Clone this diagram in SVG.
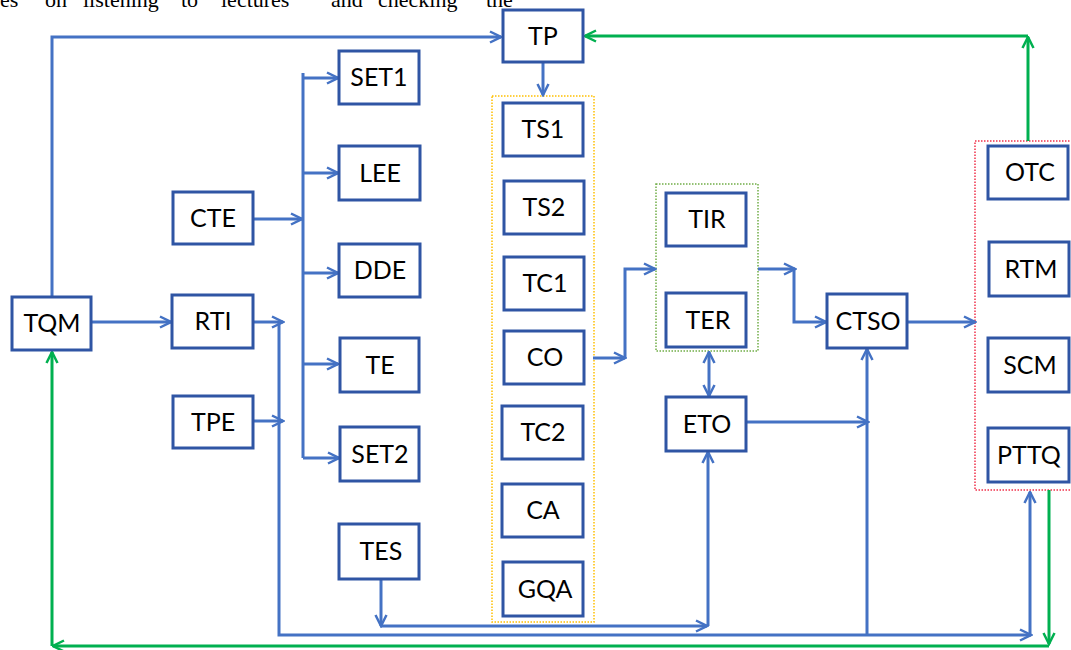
<svg xmlns="http://www.w3.org/2000/svg" width="1071" height="650" viewBox="0 0 1071 650">
<style>
.box rect{fill:#fff;stroke:#2F55A4;stroke-width:3}
.box text{font-family:Lato,"Liberation Sans",sans-serif;font-size:25px;fill:#000;text-anchor:middle}
.c{fill:none;stroke:#4472C4;stroke-width:3}
.g{fill:none;stroke:#00B050;stroke-width:3}
.grp{fill:none;stroke-width:1.5;stroke-dasharray:1.5 1.5}
.hdr{font-family:"Liberation Serif",serif;font-size:22px;fill:#000}
</style>
<defs>
<marker id="ab" viewBox="0 0 14 14" refX="12.5" refY="7" markerWidth="14" markerHeight="14" orient="auto" markerUnits="userSpaceOnUse"><path d="M1.5,1.5 L12.5,7 L1.5,12.5" fill="none" stroke="#4472C4" stroke-width="2.5"/></marker>
<marker id="abs" viewBox="0 0 14 14" refX="1.5" refY="7" markerWidth="14" markerHeight="14" orient="auto" markerUnits="userSpaceOnUse"><path d="M12.5,1.5 L1.5,7 L12.5,12.5" fill="none" stroke="#4472C4" stroke-width="2.5"/></marker>
<marker id="ag" viewBox="0 0 14 14" refX="12.5" refY="7" markerWidth="14" markerHeight="14" orient="auto" markerUnits="userSpaceOnUse"><path d="M1.5,1.5 L12.5,7 L1.5,12.5" fill="none" stroke="#00B050" stroke-width="2.5"/></marker>
</defs>
<rect width="1071" height="650" fill="#fff"/>
<text class="hdr" y="7"><tspan x="0">es</tspan><tspan x="45">on</tspan><tspan x="83">listening</tspan><tspan x="181">to</tspan><tspan x="221">lectures</tspan><tspan x="331">and</tspan><tspan x="378">checking</tspan><tspan x="486">the</tspan></text>

<g id="groups">
<rect class="grp" x="492" y="96" width="102" height="526" stroke="#FFC000"/>
<rect class="grp" x="656" y="184" width="102" height="167" stroke="#70AD47"/>
<rect class="grp" x="975" y="141" width="110" height="349" stroke="#F0304A"/>
</g>

<g id="connectors">
<path class="c" d="M52,297 V37 H501" marker-end="url(#ab)"/>
<path class="c" d="M91,322 H171" marker-end="url(#ab)"/>
<path class="c" d="M543,62 V95" marker-end="url(#ab)"/>
<path class="c" d="M253,219 H302" marker-end="url(#ab)"/>
<path class="c" d="M303,73 V458"/>
<path class="c" d="M303,78 H338" marker-end="url(#ab)"/>
<path class="c" d="M303,173 H338" marker-end="url(#ab)"/>
<path class="c" d="M303,273 H338" marker-end="url(#ab)"/>
<path class="c" d="M303,364 H338" marker-end="url(#ab)"/>
<path class="c" d="M303,458 H339" marker-end="url(#ab)"/>
<path class="c" d="M253,322 H283" marker-end="url(#ab)"/>
<path class="c" d="M253,421 H283" marker-end="url(#ab)"/>
<path class="c" d="M279,322 V635 H1031" marker-end="url(#ab)"/>
<path class="c" d="M1030,635 V492" marker-end="url(#ab)"/>
<path class="c" d="M381,579 V626" marker-end="url(#ab)"/>
<path class="c" d="M381,626 H707" marker-end="url(#ab)"/>
<path class="c" d="M708,626 V452" marker-end="url(#ab)"/>
<path class="c" d="M593,358 H625" marker-end="url(#ab)"/>
<path class="c" d="M625,358 V269 H655" marker-end="url(#ab)"/>
<path class="c" d="M758,269 H795" marker-end="url(#ab)"/>
<path class="c" d="M794,269 V322 H826" marker-end="url(#ab)"/>
<path class="c" d="M907,322 H975" marker-end="url(#ab)"/>
<path class="c" d="M709,352 V396" marker-start="url(#abs)" marker-end="url(#ab)"/>
<path class="c" d="M746,422 H868" marker-end="url(#ab)"/>
<path class="c" d="M867,635 V349" marker-end="url(#ab)"/>
<path class="g" d="M1028,141 V37" marker-end="url(#ag)"/>
<path class="g" d="M1028,36 H585" marker-end="url(#ag)"/>
<path class="g" d="M1049,490 V644" marker-end="url(#ag)"/>
<path class="g" d="M1049,646 H53" marker-end="url(#ag)"/>
<path class="g" d="M52,646 V352" marker-end="url(#ag)"/>
</g>

<g id="TP" class="box"><rect x="503" y="10" width="80" height="52"/><text x="543" y="45">TP</text></g>
<g id="SET1" class="box"><rect x="339" y="51" width="80" height="53"/><text x="379" y="86">SET1</text></g>
<g id="LEE" class="box"><rect x="339" y="146" width="81" height="54"/><text x="380" y="182">LEE</text></g>
<g id="CTE" class="box"><rect x="173" y="192" width="80" height="52"/><text x="213" y="227">CTE</text></g>
<g id="DDE" class="box"><rect x="339" y="244" width="81" height="53"/><text x="380" y="279">DDE</text></g>
<g id="TQM" class="box"><rect x="12" y="297" width="79" height="53"/><text x="52" y="332">TQM</text></g>
<g id="RTI" class="box"><rect x="172" y="295" width="81" height="53"/><text x="213" y="330">RTI</text></g>
<g id="TE" class="box"><rect x="340" y="338" width="79" height="54"/><text x="380" y="374">TE</text></g>
<g id="TPE" class="box"><rect x="173" y="396" width="80" height="52"/><text x="213" y="431">TPE</text></g>
<g id="SET2" class="box"><rect x="340" y="427" width="79" height="54"/><text x="380" y="463">SET2</text></g>
<g id="TES" class="box"><rect x="339" y="524" width="80" height="55"/><text x="381" y="560">TES</text></g>
<g id="TS1" class="box"><rect x="503" y="103" width="80" height="53"/><text x="543" y="138">TS1</text></g>
<g id="TS2" class="box"><rect x="504" y="181" width="80" height="53"/><text x="544" y="216">TS2</text></g>
<g id="TC1" class="box"><rect x="504" y="257" width="80" height="53"/><text x="545" y="292">TC1</text></g>
<g id="CO" class="box"><rect x="504" y="331" width="80" height="53"/><text x="545" y="366">CO</text></g>
<g id="TC2" class="box"><rect x="502" y="406" width="81" height="53"/><text x="543" y="441">TC2</text></g>
<g id="CA" class="box"><rect x="502" y="484" width="81" height="53"/><text x="543" y="519">CA</text></g>
<g id="GQA" class="box"><rect x="503" y="562" width="80" height="54"/><text x="545" y="598">GQA</text></g>
<g id="TIR" class="box"><rect x="666" y="193" width="80" height="53"/><text x="707" y="228">TIR</text></g>
<g id="TER" class="box"><rect x="666" y="293" width="80" height="54"/><text x="708" y="329">TER</text></g>
<g id="ETO" class="box"><rect x="666" y="397" width="80" height="54"/><text x="707" y="433">ETO</text></g>
<g id="CTSO" class="box"><rect x="827" y="294" width="80" height="54"/><text x="868" y="330">CTSO</text></g>
<g id="OTC" class="box"><rect x="988" y="146" width="80" height="53"/><text x="1030" y="181">OTC</text></g>
<g id="RTM" class="box"><rect x="989" y="242" width="80" height="54"/><text x="1031" y="278">RTM</text></g>
<g id="SCM" class="box"><rect x="988" y="338" width="81" height="54"/><text x="1030" y="374">SCM</text></g>
<g id="PTTQ" class="box"><rect x="988" y="428" width="81" height="54"/><text x="1029" y="464">PTTQ</text></g>
</svg>
